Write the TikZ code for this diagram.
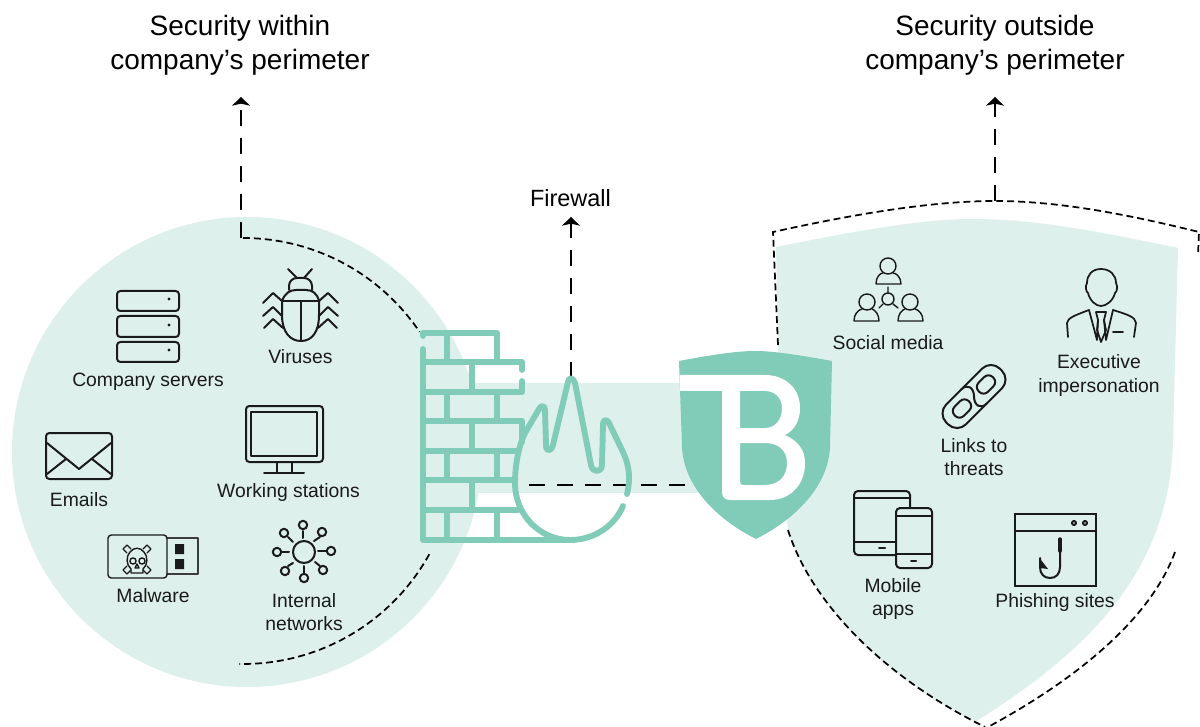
\documentclass[tikz,border=0pt]{standalone}
\usepackage{fontspec}
\setmainfont{Liberation Sans}
\usetikzlibrary{arrows.meta}
\definecolor{pale}{HTML}{DEF0EB}
\definecolor{teal}{HTML}{81CCB8}
\definecolor{ink}{HTML}{1A1A1A}
\tikzset{
 lbl/.style={font=\fontsize{14.5}{17.6}\selectfont,text=ink,align=center,inner sep=0pt},
 big/.style={font=\fontsize{21}{25.5}\selectfont,text=black,align=center,inner sep=0pt},
 icon/.style={draw=ink,line width=1.5pt,line join=round,line cap=round},
 thinicon/.style={draw=ink,line width=1.05pt,line join=round,line cap=round},
 brick/.style={draw=teal,line width=4.4pt,line cap=round,line join=round},
 longdash/.style={draw=black,line width=1.4pt,dash pattern=on 12pt off 9pt},
 shortdash/.style={draw=black,line width=1.3pt,dash pattern=on 5.2pt off 3pt},
 tip/.style={-{Stealth[length=6.5pt,width=13.5pt,inset=1.5pt]}},
}
\begin{document}
\begin{tikzpicture}[x=0.75pt,y=-0.75pt]
\useasboundingbox (0,0) rectangle (1200,727);
\fill[white] (0,0) rectangle (1200,727);
% pale backgrounds
\fill[pale] (247,452) circle (235);
\fill[pale] (470,383) rectangle (720,493);
\fill[pale] (776,247) .. controls (850,232) and (920,219) .. (973,219) .. controls (1040,219) and (1110,234) .. (1178,248)
 -- (1173,440) .. controls (1170,570) and (1090,650) .. (975,722) .. controls (880,675) and (810,600) .. (788,530) -- (780,440) -- cycle;
% dashed perimeters
\coordinate (lstart) at (241,238);
\coordinate (ltip) at (241,97);
\coordinate (rstart) at (995,201);
\coordinate (rtip) at (995,97);
\coordinate (fstart) at (571,378);
\coordinate (ftip) at (571,217);
\coordinate (hstart) at (529,485);
\coordinate (hend) at (690,485);
\draw[shortdash] plot[domain=-90:-34,samples=40] ({243+213*cos(\x)},{451+213*sin(\x)});
\draw[shortdash] plot[domain=29:91,samples=40] ({243+213*cos(\x)},{451+213*sin(\x)});
\draw[longdash,tip] (lstart) -- (ltip);
\draw[longdash,tip] (rstart) -- (rtip);
\draw[longdash,tip] (fstart) -- (ftip);
\draw[longdash] (hstart) -- (hend);
\draw[shortdash] (778,345) -- (773,232) .. controls (850,215) and (930,201) .. (995,201) .. controls (1060,201) and (1130,215) .. (1199,232) -- (1198,255);
\draw[shortdash] (788,530) .. controls (810,600) and (880,675) .. (985,727);
\draw[shortdash] (1175,552) .. controls (1150,620) and (1075,680) .. (988,727);
% brick wall
\draw[brick] (423,349) -- (423,540) -- (570,540);
\draw[brick] (423,336) -- (423,333) -- (497,333) -- (497,362);
\draw[brick] (447,333) -- (447,362);
\draw[brick] (423,362) -- (522,362) -- (522,370);
\draw[brick] (522,381) -- (522,392) -- (423,392);
\draw[brick] (472,362) -- (472,392);
\draw[brick] (447,392) -- (447,421) (497,392) -- (497,421);
\draw[brick] (423,421) -- (522,421) -- (522,442);
\draw[brick] (472,421) -- (472,451);
\draw[brick] (423,451) -- (517,451);
\draw[brick] (447,451) -- (447,480) (497,451) -- (497,480);
\draw[brick] (423,480) -- (515,480);
\draw[brick] (472,480) -- (472,510);
\draw[brick] (423,510) -- (518,510);
\draw[brick] (447,510) -- (447,540) (497,510) -- (497,540);
% flame
\draw[brick] (627,494) .. controls (631,478) and (629,465) .. (623,452) -- (609,423) .. controls (607,419) and (603,419) .. (603,424)
 -- (602,465) .. controls (602,473) and (592,473) .. (591,465) -- (575,383) .. controls (573,377) and (569,377) .. (568,382)
 -- (553,445) .. controls (551,452) and (546,452) .. (546,445) -- (545,410) .. controls (545,405) and (541,405) .. (539,409)
 -- (525,433) .. controls (517,450) and (515,470) .. (515,483) .. controls (515,515) and (540,540) .. (570,540) .. controls (595,540) and (615,525) .. (623,506);
% shield with T B
\fill[teal] (679,361) .. controls (705,356) and (735,351) .. (755,351) .. controls (775,351) and (805,356) .. (832,361) -- (830,447)
 .. controls (828,490) and (790,522) .. (756,539) .. controls (722,522) and (684,490) .. (682,447) -- cycle;
\fill[white,even odd rule] (680,375) -- (765,375) .. controls (785,375) and (800,388) .. (800,408) .. controls (800,420) and (795,430) .. (785,435)
 .. controls (798,441) and (805,450) .. (805,463) .. controls (805,485) and (790,500) .. (770,500) -- (730,500) .. controls (725,500) and (722,497) .. (722,492) -- (722,391) -- (680,391) -- cycle
 (740,391) -- (765,391) .. controls (775,391) and (782,398) .. (782,408) .. controls (782,420) and (775,428) .. (765,428) -- (740,428) -- cycle
 (740,443) -- (765,443) .. controls (778,443) and (787,450) .. (787,463) .. controls (787,477) and (778,485) .. (765,485) -- (743,485) .. controls (741,485) and (740,484) .. (740,482) -- cycle;
% servers
\foreach \ya/\yb/\yc in {291/311/299,316/337/325,342/362/350}{
 \draw[icon,rounded corners=2.5pt] (117,\ya) rectangle (179,\yb);
 \fill[ink] (169,\yc) circle (1.7);
}
% bug
\draw[icon] (288,269) -- (297,278) (312,269) -- (304,278);
\draw[icon] (289,290) -- (289,286) .. controls (289,281) and (293,278) .. (297,278) -- (304,278) .. controls (308,278) and (312,281) .. (312,286) -- (312,290);
\draw[icon] (282,301) .. controls (285,293) and (290,290) .. (296,290) -- (306,290) .. controls (312,290) and (317,293) .. (319,301)
 -- (319,315) .. controls (319,332) and (312,341) .. (301,341) .. controls (290,341) and (282,332) .. (282,315) -- cycle;
\draw[icon] (282,301) -- (319,301) (301,301) -- (301,341);
\draw[icon] (263,303) -- (273,293) -- (282,301) (263,316) -- (273,307) -- (282,316) (264,328) -- (273,319) -- (283,328);
\draw[icon] (338,303) -- (328,293) -- (319,301) (338,316) -- (328,307) -- (319,316) (337,328) -- (328,319) -- (318,328);
% monitor
\draw[icon,rounded corners=2.5pt] (246,406) rectangle (323,462);
\draw[icon] (251,412) rectangle (317,456);
\draw[icon] (277,462) -- (277,473) (292,462) -- (292,473) (264,473) -- (304,473);
% envelope
\draw[icon,rounded corners=2.5pt] (46,433) rectangle (112,479);
\draw[icon] (47,443) -- (79,469) -- (111,443) (66,459) -- (47,474) (92,459) -- (111,474);
% usb
\draw[thinicon,draw=ink!85] (167,538) -- (198,538) -- (198,574) -- (167,574);
\draw[thinicon,rounded corners=2.5pt] (167,535) -- (108,535) -- (108,578) -- (167,578) -- cycle;
\fill[ink] (175,544) rectangle (184,554) (175,559) rectangle (184,569);
\draw[thinicon] (127,553) -- (123,549) -- (127,545) -- (131,549);
\draw[thinicon] (147,553) -- (151,549) -- (147,545) -- (143,549);
\draw[thinicon] (127,566) -- (123,570) -- (127,574) -- (131,570);
\draw[thinicon] (147,566) -- (151,570) -- (147,574) -- (143,570);
\draw[thinicon] (131,569) .. controls (126,565) and (126,556) .. (130,552) .. controls (134,547) and (140,547) .. (144,552) .. controls (148,556) and (148,565) .. (143,569) -- (143,573) -- (131,573) -- cycle;
\draw[thinicon] (133,561) circle (3.1) (142,561) circle (3.1);
\draw[thinicon] (137,564) -- (135,568) -- (139,568) -- cycle;
% network
\draw[icon] (304,552) circle (11);
\foreach \cx/\cy/\ax/\ay/\bx/\by in {303/525/303/531/303/538,322/532/320/537/314/541,331/551/326/551/318/551,323/570/320/566/315/562,304/578/304/573/304/566,285/571/288/566/293/563,277/552/282/552/289/552,284/533/288/537/293/542}{
 \draw[icon] (\cx,\cy) circle (4.2);
 \draw[icon] (\ax,\ay) -- (\bx,\by);
}
% social
\draw[thinicon] (888,266) circle (8) (867,302) circle (8) (910,302) circle (8) (888,299) circle (6);
\draw[thinicon] (876,284) -- (901,284) .. controls (901,277) and (896,273) .. (893,273) (883,273) .. controls (880,273) and (876,277) .. (876,284);
\draw[thinicon] (854,321) -- (879,321) .. controls (879,314) and (875,310) .. (872,309) (862,309) .. controls (858,310) and (854,314) .. (854,321);
\draw[thinicon] (898,321) -- (923,321) .. controls (923,314) and (919,310) .. (915,309) (905,309) .. controls (902,310) and (898,314) .. (898,321);
\draw[thinicon] (888,287) -- (888,293) (879,308) -- (883,304) (898,308) -- (893,304);
% executive
\draw[thinicon,line width=1.3pt] (1101,269) .. controls (1092,269) and (1087,275) .. (1087,283) .. controls (1085,286) and (1086,292) .. (1088,293) .. controls (1090,301) and (1096,306) .. (1101,306) .. controls (1106,306) and (1113,301) .. (1115,293) .. controls (1117,292) and (1118,286) .. (1116,283) .. controls (1116,275) and (1110,269) .. (1101,269) -- cycle;
\draw[thinicon,line width=1.3pt] (1068,337) -- (1067,323) .. controls (1068,318) and (1073,316) .. (1089,310) -- (1097,340) -- (1098,320) (1113,310) -- (1106,340) -- (1104,320);
\draw[thinicon,line width=1.3pt] (1113,310) .. controls (1129,315) and (1135,317) .. (1136,323) -- (1134,337);
\draw[thinicon,line width=1.3pt] (1096,312) -- (1106,312) -- (1104,320) -- (1106,330) -- (1101,342) -- (1097,330) -- (1098,320) -- cycle;
\draw[thinicon,line width=1.3pt] (1113,332) -- (1123,332);
% chain link
\begin{scope}[shift={(974,396.5)},rotate=45]
 \draw[icon,rounded corners=9.5pt] (-38,-14) rectangle (38,14);
 \draw[icon,rounded corners=4.5pt] (7,-6.5) rectangle (27,6.5);
 \draw[icon,rounded corners=4.5pt] (-27,-6.5) rectangle (-7,6.5);
 \draw[icon] (-4,-14) .. controls (5,-14) and (6,-6) .. (0,0) .. controls (-6,6) and (-5,14) .. (4,14);
\end{scope}
% tablet and phone
\draw[icon,rounded corners=3pt] (910,507) -- (910,491) -- (854,491) -- (854,555) -- (895,555);
\draw[icon] (854,498) -- (910,498) (854,542) -- (895,542) (879,548) -- (885,548);
\draw[icon,rounded corners=3pt] (896,508) rectangle (932,568);
\draw[icon] (896,516) -- (932,516) (896,554) -- (932,554) (911,561) -- (916,561);
% phishing
\draw[icon,line cap=butt,line join=miter] (1015,514) rectangle (1096,586);
\draw[icon] (1015,531) -- (1096,531);
\draw[icon] (1074,523) circle (2) (1085,523) circle (2);
\draw[ink,line width=2.6pt,line cap=round] (1060,539) -- (1060,551);
\draw[icon] (1060,551) -- (1060,567) .. controls (1060,574) and (1056,578) .. (1050,578) .. controls (1044,578) and (1040,574) .. (1040,567) -- (1040,558);
\fill[ink] (1039.5,558) -- (1048,569) -- (1040,568) -- cycle;
% labels
\node[big] (t1) at (240,45) {Security within\\company’s perimeter};
\node[big] (t2) at (995,45) {Security outside\\company’s perimeter};
\node[font=\fontsize{17.6}{20}\selectfont,inner sep=0pt] (fw) at (570.5,198) {Firewall};
\node[lbl] (n1) at (300.5,357) {Viruses};
\node[lbl] (n2) at (148,382) {Company servers};
\node[lbl] (n3) at (79,500) {Emails};
\node[lbl] (n4) at (288.5,493) {Working stations};
\node[lbl] (n5) at (153,596) {Malware};
\node[lbl] (n6) at (304,612) {Internal\\networks};
\node[lbl] (n7) at (888,343) {Social media};
\node[lbl] (n8) at (1099,375.5) {Executive\\impersonation};
\node[lbl] (n9) at (974,457) {Links to\\threats};
\node[lbl] (n10) at (893,599) {Mobile\\apps};
\node[lbl] (n11) at (1055,602) {Phishing sites};
\end{tikzpicture}
\end{document}
